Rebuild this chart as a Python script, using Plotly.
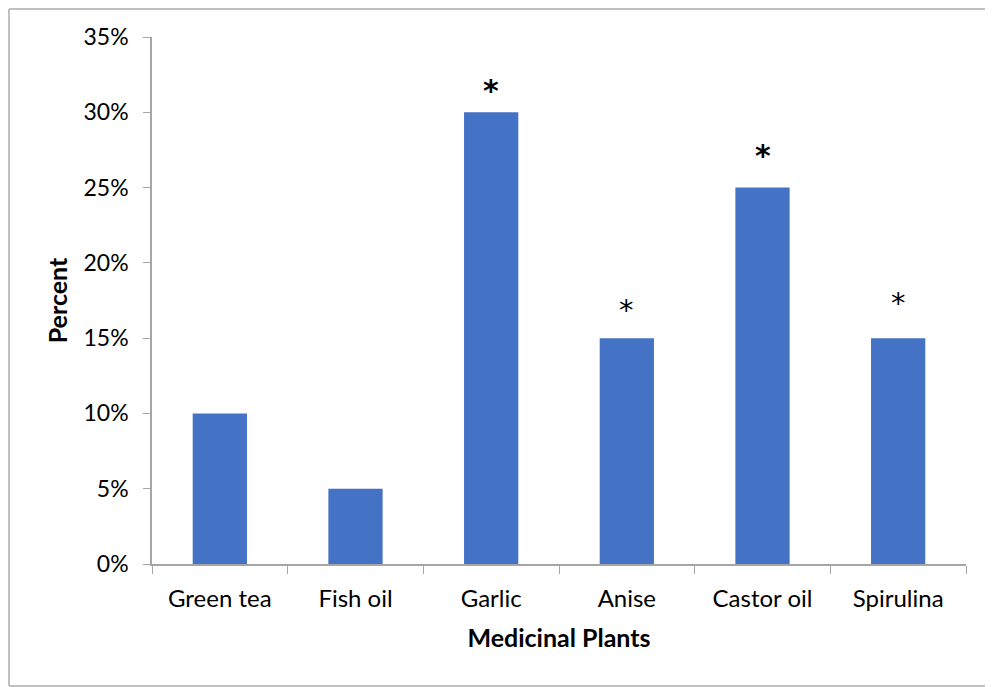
import plotly.graph_objects as go

categories = ["Green tea", "Fish oil", "Garlic", "Anise", "Castor oil", "Spirulina"]
values = [0.10, 0.05, 0.30, 0.15, 0.25, 0.15]
marks = ["", "", "*", "*", "*", "*"]
mark_bold = [False, False, True, False, True, False]
y_ticks = [0, 0.05, 0.10, 0.15, 0.20, 0.25, 0.30, 0.35]
y_tick_labels = ["0%", "5%", "10%", "15%", "20%", "25%", "30%", "35%"]

# styling: pixel lift of each mark above its bar
mark_lift = [0, 0, 16, 23, 27, 30]

FONT = "Lato, 'Open Sans', sans-serif"
AXIS_COLOR = "#A6A6A6"
BORDER = "#C0C0C0"

fig = go.Figure()
fig.add_trace(go.Bar(
    x=categories, y=values, width=0.4,
    marker=dict(color="#4472C4", line=dict(width=0)),
    hoverinfo="skip",
))

for c, v, m, b, lift in zip(categories, values, marks, mark_bold, mark_lift):
    if not m:
        continue
    fig.add_annotation(
        x=c, y=v, xref="x", yref="y", text=f"<b>{m}</b>" if b else m,
        showarrow=False, yanchor="bottom", yshift=lift - 14,
        font=dict(family="'DejaVu Sans'", size=30 if b else 29, color="black"),
    )

OFF = 8  # page body margin
W, H = 993 - OFF, 687 - OFF
L, T = 152 - OFF, 37 - OFF
pw, ph = 814, 527
R, B = W - L - pw, H - T - ph

def px(x):
    return (x - OFF - L) / pw

def py(y):
    return (H - B - (y - OFF)) / ph

# outer chart frame (top, left, bottom edges)
for x0, y0, x1, y1 in [(9, 9, W + OFF, 9), (9, 9, 9, 686), (9, 686, W + OFF, 686)]:
    fig.add_shape(type="line", xref="paper", yref="paper",
                  x0=px(x0), x1=px(x1), y0=py(y0), y1=py(y1),
                  line=dict(color=BORDER, width=2), layer="below")

fig.update_layout(
    width=W, height=H,
    margin=dict(l=L, r=R, t=T, b=B, pad=0),
    paper_bgcolor="white", plot_bgcolor="white",
    showlegend=False,
    font=dict(family=FONT, size=24, color="black"),
    bargap=0.6,
    xaxis=dict(
        title=dict(text="<b>Medicinal Plants</b>", font=dict(size=25), standoff=19),
        showline=True, linecolor=AXIS_COLOR, linewidth=1.5,
        ticks="outside", tickson="boundaries", ticklen=8, tickcolor=AXIS_COLOR,
        ticklabelstandoff=12,
        showgrid=False, tickfont=dict(size=24), zeroline=False,
    ),
    yaxis=dict(
        title=dict(text="<b>Percent</b>", font=dict(size=25), standoff=9),
        range=[0, 0.35], tickvals=y_ticks, ticktext=y_tick_labels,
        showline=True, linecolor=AXIS_COLOR, linewidth=1.5,
        ticks="outside", ticklen=7, tickcolor=AXIS_COLOR,
        ticklabelstandoff=10,
        showgrid=False, zeroline=False, tickfont=dict(size=23),
    ),
)

fig.write_html("out.html")
